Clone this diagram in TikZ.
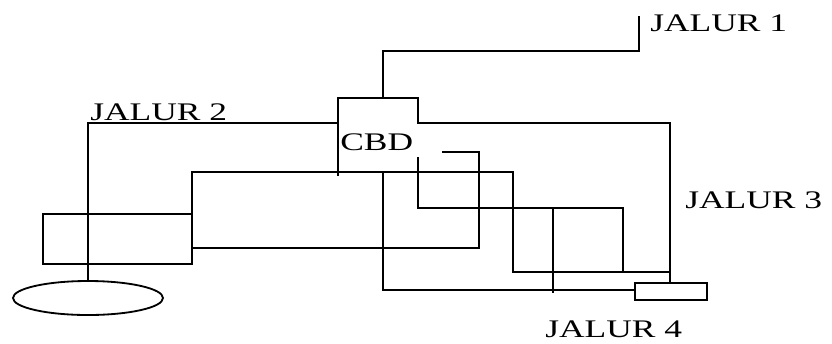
\documentclass[tikz,border=0pt]{standalone}
\usepackage{fontspec}
\usetikzlibrary{shapes.geometric}
\newfontfamily\jalurfont[FakeStretch=1.4]{Liberation Serif}

\begin{document}
\begin{tikzpicture}[
  x=0.025cm,y=-0.025cm,
  route/.style={line width=1.3pt,line cap=rect},
  tag/.style={font=\jalurfont\fontsize{18}{20}\selectfont,inner sep=0pt,anchor=west},
  block/.style={draw,line width=1.3pt,inner sep=0pt}]
\useasboundingbox (0,0) rectangle (832,343);
% blocks
\node[block,minimum width=3.725cm,minimum height=1.25cm] (lbox) at (117.5,239) {};
\node[block,ellipse,minimum width=3.75cm,minimum height=0.85cm] (oval) at (88,298) {};
\node[block,minimum width=1.8cm,minimum height=0.425cm] (sbox) at (671,291.5) {};
% labels
\node[tag] (j1) at (650,23) {JALUR 1};
\node[tag] (j2) at (90,112) {JALUR 2};
\node[tag] (j3) at (685,200) {JALUR 3};
\node[tag] (j4) at (545,329) {JALUR 4};
\node[tag] (cbd) at (340,142) {CBD};
% routes
\draw[route] (639,17) -- (639,51) -- (383,51) -- (383,98);
\draw[route] (338,175) -- (338,98) -- (418,98) -- (418,123) -- (670,123) -- (670,283);
\draw[route] (338,123) -- (88,123) -- (oval.north);
\draw[route] (192,264) -- (192,172) -- (513,172) -- (513,272) -- (670,272);
\draw[route] (192,248) -- (479,248) -- (479,152) -- (443,152);
\draw[route] (418,158) -- (418,208) -- (623,208) -- (623,272);
\draw[route] (383,172) -- (383,290) -- (sbox.west |- 0,290);
\draw[route] (553,208) -- (553,292);
\end{tikzpicture}
\end{document}
